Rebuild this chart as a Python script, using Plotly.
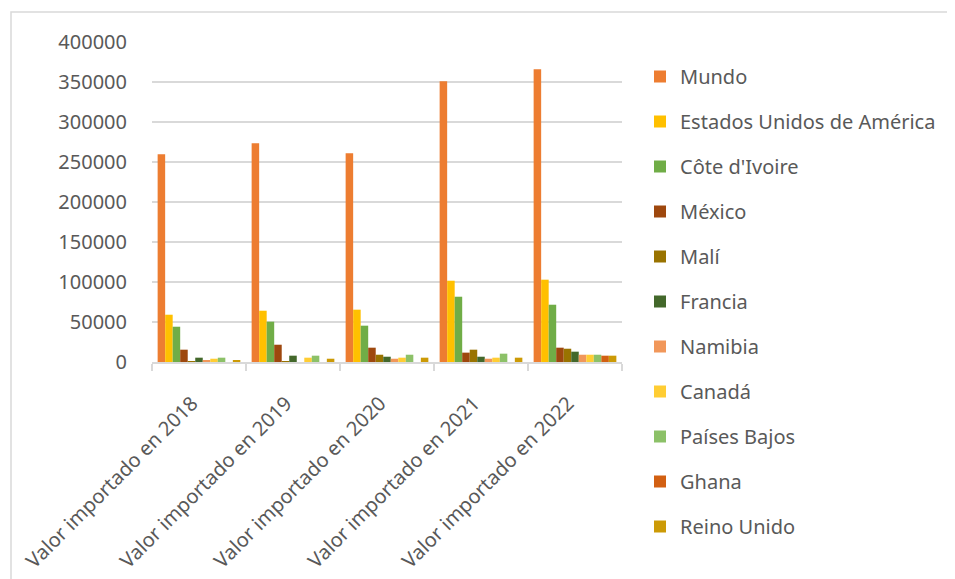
import plotly.graph_objects as go

categories = ["Valor importado en 2018", "Valor importado en 2019", "Valor importado en 2020",
              "Valor importado en 2021", "Valor importado en 2022"]

mundo = [259600, 273400, 260900, 350900, 365900]
estados_unidos = [59100, 64100, 65400, 101600, 102900]
cote_divoire = [44100, 50400, 45400, 81600, 71600]
mexico = [15400, 21600, 17900, 11700, 17900]
mali = [300, 300, 9100, 15400, 16600]
francia = [5400, 7900, 6600, 6600, 12900]
namibia = [1700, 0, 4100, 4100, 9100]
canada = [4100, 5400, 5400, 5400, 9100]
paises_bajos = [5400, 7900, 9100, 10400, 9100]
ghana = [0, 0, 0, 0, 7900]
reino_unido = [2000, 4100, 5400, 5400, 7900]

series = [
    ("Mundo", mundo, "#ED7D31"),
    ("Estados Unidos de América", estados_unidos, "#FFC000"),
    ("Côte d'Ivoire", cote_divoire, "#70AD47"),
    ("México", mexico, "#9E480E"),
    ("Malí", mali, "#997300"),
    ("Francia", francia, "#43682B"),
    ("Namibia", namibia, "#F1975A"),
    ("Canadá", canada, "#FFCD33"),
    ("Países Bajos", paises_bajos, "#8CC168"),
    ("Ghana", ghana, "#D26012"),
    ("Reino Unido", reino_unido, "#CC9A06"),
]

FONT = "Noto Sans"
TXT = "#595959"
GRID = "#D9D9D9"

fig = go.Figure()
for i, (name, vals, col) in enumerate(series):
    fig.add_trace(go.Bar(x=categories, y=vals, name=name, marker_color=col,
                         marker_line_width=0, legendgroup=f"g{i}"))

# page has an 8px body margin; figure coordinates are screen minus 8
W, H = 947, 571
L, T = 144, 34
PW, PH = 470, 320
R, B = W - L - PW, H - T - PH
fig.update_layout(
    width=W, height=H,
    margin=dict(l=L, r=R, t=T, b=B, autoexpand=False),
    paper_bgcolor="white", plot_bgcolor="white",
    barmode="group", bargap=0.12, bargroupgap=0,
    font=dict(family=FONT, size=20, color=TXT),
    legend=dict(x=(632 - L) / PW, xanchor="left", y=(T + PH - 49) / PH, yanchor="top",
                traceorder="grouped", tracegroupgap=16, maxheight=560,
                font=dict(family=FONT, size=20, color=TXT)),
    yaxis=dict(range=[0, 400000], dtick=50000, tickformat="d",
               showgrid=True, gridcolor=GRID, gridwidth=1.5,
               zeroline=False, showline=False, ticks="",
               ticklabelstandoff=24),
    xaxis=dict(showline=True, linecolor=GRID, linewidth=1.5,
               ticks="outside", tickson="boundaries", ticklen=7,
               tickcolor=GRID, tickwidth=1.5, tickangle=-45,
               ticklabelshift=-7, ticklabelstandoff=20),
    shapes=[dict(type="rect", xref="paper", yref="paper",
                 x0=(3 - L) / PW, x1=3, y0=-3, y1=(T + PH - 4) / PH,
                 line=dict(color=GRID, width=1.5), layer="below")],
)

fig.write_html("out.html")
